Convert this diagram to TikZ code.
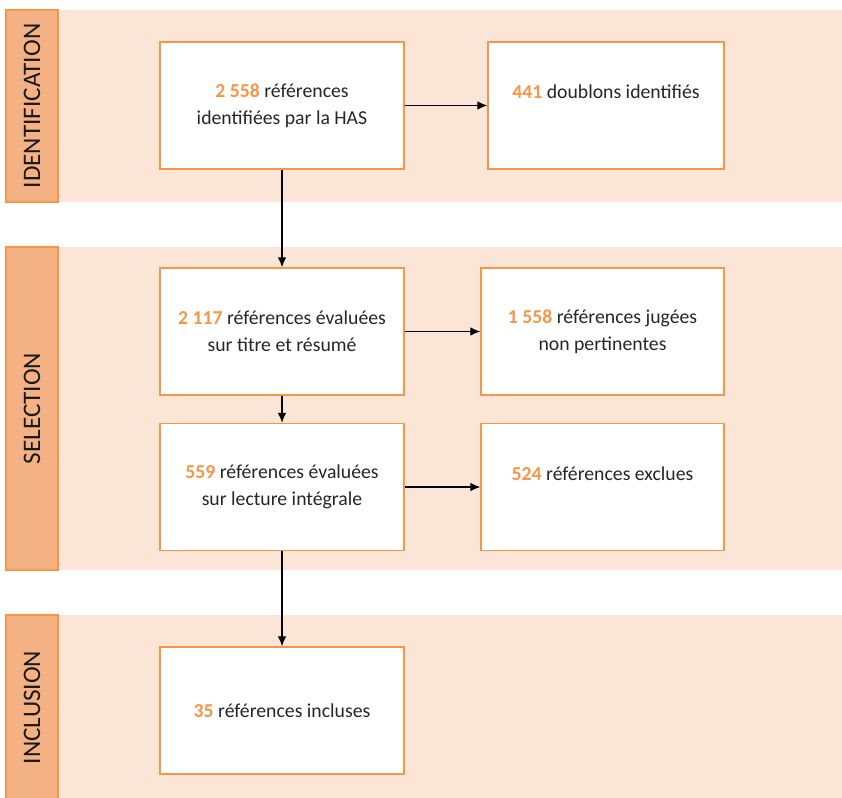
\documentclass[tikz,border=0pt]{standalone}
\usepackage{fontspec}
\setmainfont{Carlito}
\usetikzlibrary{arrows.meta}
\definecolor{hasorange}{HTML}{F79646}
\definecolor{hasband}{HTML}{FBE5D6}
\definecolor{haslabel}{HTML}{F4B183}
\newcommand{\nb}[1]{\textbf{\textcolor{hasorange}{#1}}}

\begin{document}
\begin{tikzpicture}[x=0.75pt,y=-0.75pt,>={Latex[length=7.5pt,width=6.5pt]}]
      \tikzset{
	  band/.style={fill=hasband},
	  phase/.style={draw=hasorange, line width=1.1pt, fill=haslabel, rotate=90, minimum height=39pt, inner sep=0pt, text=black!90, font=\fontsize{18.9}{20}\selectfont},
	  refbox/.style={draw=hasorange, line width=1.1pt, fill=white, minimum height=95.25pt, inner sep=0pt, align=center, text=black!85, font=\fontsize{14.8}{20.5}\selectfont},
	  flow/.style={->, line width=0.9pt}
      }
      \useasboundingbox (0,0) rectangle (842,798);

      % bands
      \fill[band] (58,10) rectangle (842,202);
      \fill[band] (58,247) rectangle (842,570);
      \fill[band] (58,615) rectangle (842,800);

      \node[phase, minimum width=144pt] (ident) at (32,106) {IDENTIFICATION};
      \node[phase, minimum width=242.25pt] (select) at (32,408.5) {SELECTION};
      \node[phase, minimum width=138.75pt] (incl) at (32,707.5) {INCLUSION};

      % boxes
      \node[refbox, minimum width=183pt] (found) at (282,105.5) {\nb{2 558} références\\identifiées par la HAS};
      \node[refbox, minimum width=177pt] (dupl) at (606,105.5) {\nb{441} doublons identifiés\\\mbox{}};
      \node[refbox, minimum width=183pt] (screen) at (282,331.5) {\nb{2 117} références évaluées\\sur titre et résumé};
      \node[refbox, minimum width=182.25pt] (notrel) at (602.5,331.5) {\nb{1 558} références jugées\\non pertinentes};
      \node[refbox, minimum width=183pt] (full) at (282,487) {\nb{559} références évaluées\\sur lecture intégrale};
      \node[refbox, minimum width=182.25pt] (excl) at (602.5,487) {\nb{524} références exclues\\\mbox{}};
      \node[refbox, minimum width=183pt] (kept) at (282,710.5) {\nb{35} références incluses};

      \draw[flow] (found) -- (dupl);
      \draw[flow] (found) -- (screen);
      \draw[flow] (screen) -- (notrel);
      \draw[flow] (screen) -- (full);
      \draw[flow] (full) -- (excl);
      \draw[flow] (full) -- (kept);
\end{tikzpicture}
\end{document}
